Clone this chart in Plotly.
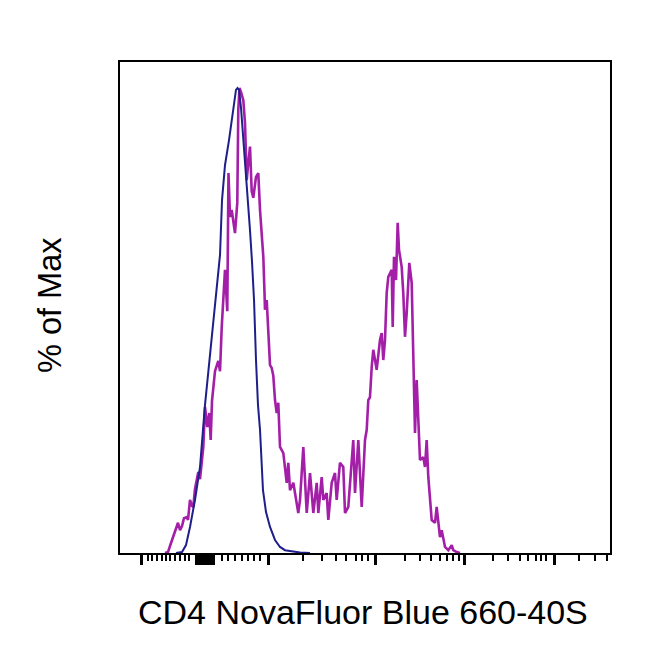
import plotly.graph_objects as go

# histogram overlay, x in display channels (0-1024 biexponential display), y in % of max
iso_x = [117.0, 129.6, 137.9, 146.3, 156.7, 167.2, 177.6, 188.1, 194.3, 202.7, 209.0, 213.2,
         219.4, 227.8, 236.2, 242.4, 245.6, 248.7, 252.9, 259.1, 265.4, 271.7, 275.9, 280.1,
         284.2, 288.4, 292.6, 298.8, 305.1, 313.5, 323.9, 334.4, 344.8, 359.4, 376.2, 397.1]
iso_y = [0, 0.2, 1.7, 5.6, 11.4, 18.5, 31.8, 42.6, 49.7, 58.3, 64.1, 75.9,
         83.4, 88.8, 95.3, 99.6, 100, 99.6, 95.7, 87.7, 79.1, 69.4, 62.6, 54.4,
         41.5, 31.8, 26.5, 13.5, 8.8, 5.6, 2.8, 1.3, 0.6, 0.3, 0.1, 0]

cd4_x = [94.0, 100.3, 104.5, 108.7, 111.4, 117.0, 121.2, 125.4, 129.6, 133.7, 139.4, 142.1,
         146.3, 150.5, 153.2, 156.7, 160.9, 163.6, 167.2, 171.4, 174.1, 177.6, 182.4, 186.6,
         189.5, 192.3, 198.5, 205.4, 209.0, 212.6, 215.9, 219.4, 224.2, 226.7, 229.9, 233.4,
         240.3, 245.1, 247.2, 249.7, 252.9, 257.7, 261.2, 264.8, 268.1, 271.7, 275.2, 278.6,
         284.2, 289.0, 292.6, 296.2, 299.5, 302.0, 303.0, 306.6, 309.9, 313.5, 317.0, 320.4,
         323.9, 327.5, 330.8, 334.4, 341.3, 344.8, 348.4, 351.7, 355.3, 362.2, 369.3, 372.6,
         376.2, 383.1, 390.2, 397.1, 404.0, 411.1, 414.4, 421.5, 424.9, 431.9, 435.3, 442.4,
         449.3, 452.8, 459.7, 466.6, 470.2, 477.1, 487.5, 491.1, 498.0, 505.1, 512.0, 515.6,
         518.9, 522.4, 526.0, 529.3, 536.4, 543.3, 546.9, 550.2, 553.8, 557.3, 560.7, 567.8,
         569.9, 572.6, 576.8, 580.3, 583.1, 588.7, 592.0, 595.6, 599.1, 604.6, 609.6, 612.9,
         616.5, 620.0, 623.4, 626.9, 633.8, 637.4, 640.9, 644.3, 651.4, 658.3, 661.8, 668.7,
         672.3, 679.2, 686.1, 693.2, 696.5, 703.6, 710.5]
cd4_y = [0, 0.2, 1.5, 2.8, 3.4, 5.4, 6.5, 4.9, 5.8, 7.5, 7.7, 7.1,
         11.4, 10.1, 9.9, 13.8, 16.3, 17.4, 15.9, 20.2, 22.8, 31.4, 27.1, 30.1,
         24.3, 32.7, 39.1, 41.3, 39.1, 48.6, 55.9, 60.9, 52.0, 81.7, 72.3, 73.8,
         68.8, 75.3, 95.3, 100, 99.1, 97.4, 92.5, 80.2, 83.9, 87.4, 77.8, 76.4,
         80.9, 81.7, 73.8, 68.0, 63.7, 55.9, 52.3, 54.4, 48.6, 40.4, 39.8, 38.1,
         32.9, 30.1, 32.3, 22.8, 21.5, 18.5, 15.1, 19.4, 13.5, 15.1, 10.3, 8.6,
         11.4, 22.8, 8.6, 17.2, 8.6, 15.1, 8.6, 16.3, 11.4, 12.9, 7.1, 15.1,
         17.2, 11.4, 19.4, 18.5, 8.6, 9.9, 24.3, 12.9, 24.3, 9.9, 24.3, 26.5,
         32.9, 33.5, 40.0, 43.7, 39.4, 45.8, 47.3, 41.5, 45.8, 55.9, 59.4, 60.9,
         48.6, 63.7, 58.7, 71.0, 65.2, 61.5, 55.9, 46.5, 51.6, 62.4, 58.1, 38.7,
         25.8, 37.2, 27.1, 20.0, 20.6, 18.5, 24.3, 16.3, 7.1, 6.5, 9.9, 3.4,
         4.9, 1.3, 0.6, 1.7, 0.6, 0.2, 0]

# biexponential axis ticks (channel positions), unlabeled; the cluster near zero is drawn long
major_ticks = [43.9, 159, 162, 165, 167.2, 170, 173, 176, 179, 182, 185, 188, 190.2, 193, 196,
               309.3, 532.9, 718.9, 907.0]
minor_ticks = [57.9, 67.9, 77.3, 87.8, 96.1, 105.5, 114.9, 125.4, 134.8, 144.2,
               212.5, 226.3, 240.3, 254.3, 268.1, 280.7, 292.6,
               383.1, 422.8, 450.8, 471.7, 492.6, 505.1, 517.6,
               595.6, 626.9, 649.3, 668.7, 684.0, 695.3, 707.8,
               780.1, 810.8, 835.9, 853.3, 868.7, 879.8, 890.9,
               959.2, 992.7, 1017.1]

fig = go.Figure()
fig.add_trace(go.Scatter(x=cd4_x, y=cd4_y, mode="lines",
                         line=dict(color="#a41fa8", width=2.6), showlegend=False))
fig.add_trace(go.Scatter(x=iso_x, y=iso_y, mode="lines",
                         line=dict(color="#1f1f8a", width=2), showlegend=False))

# page body has an 8px margin, so the figure is a bit smaller than the window
fig.update_layout(
    width=642, height=654,
    margin=dict(l=112, r=40, t=54, b=109),
    paper_bgcolor="white", plot_bgcolor="white",
    font=dict(family="Arial, Liberation Sans, sans-serif", color="black"),
)
fig.update_xaxes(range=[0, 1024], showgrid=False, zeroline=False,
                 showline=True, mirror=True, linecolor="black", linewidth=2,
                 showticklabels=False, ticks="outside", tickmode="array",
                 tickvals=major_ticks, ticklen=10, tickwidth=2.5, tickcolor="black",
                 minor=dict(tickmode="array", tickvals=minor_ticks, ticks="outside",
                            ticklen=6, tickwidth=1.5, tickcolor="black"))
fig.update_yaxes(range=[0, 105.6], showgrid=False, zeroline=False,
                 showline=True, mirror=True, linecolor="black", linewidth=2,
                 showticklabels=False, ticks="")

fig.add_annotation(text="CD4 NovaFluor Blue 660-40S", xref="paper", yref="paper",
                   x=0.495, y=-0.12, xanchor="center", yanchor="middle",
                   showarrow=False, font=dict(size=34))
fig.add_annotation(text="% of Max", xref="paper", yref="paper",
                   x=-0.143, y=0.505, xanchor="center", yanchor="middle",
                   textangle=-90, showarrow=False, font=dict(size=32.5))

fig.write_html("out.html")
